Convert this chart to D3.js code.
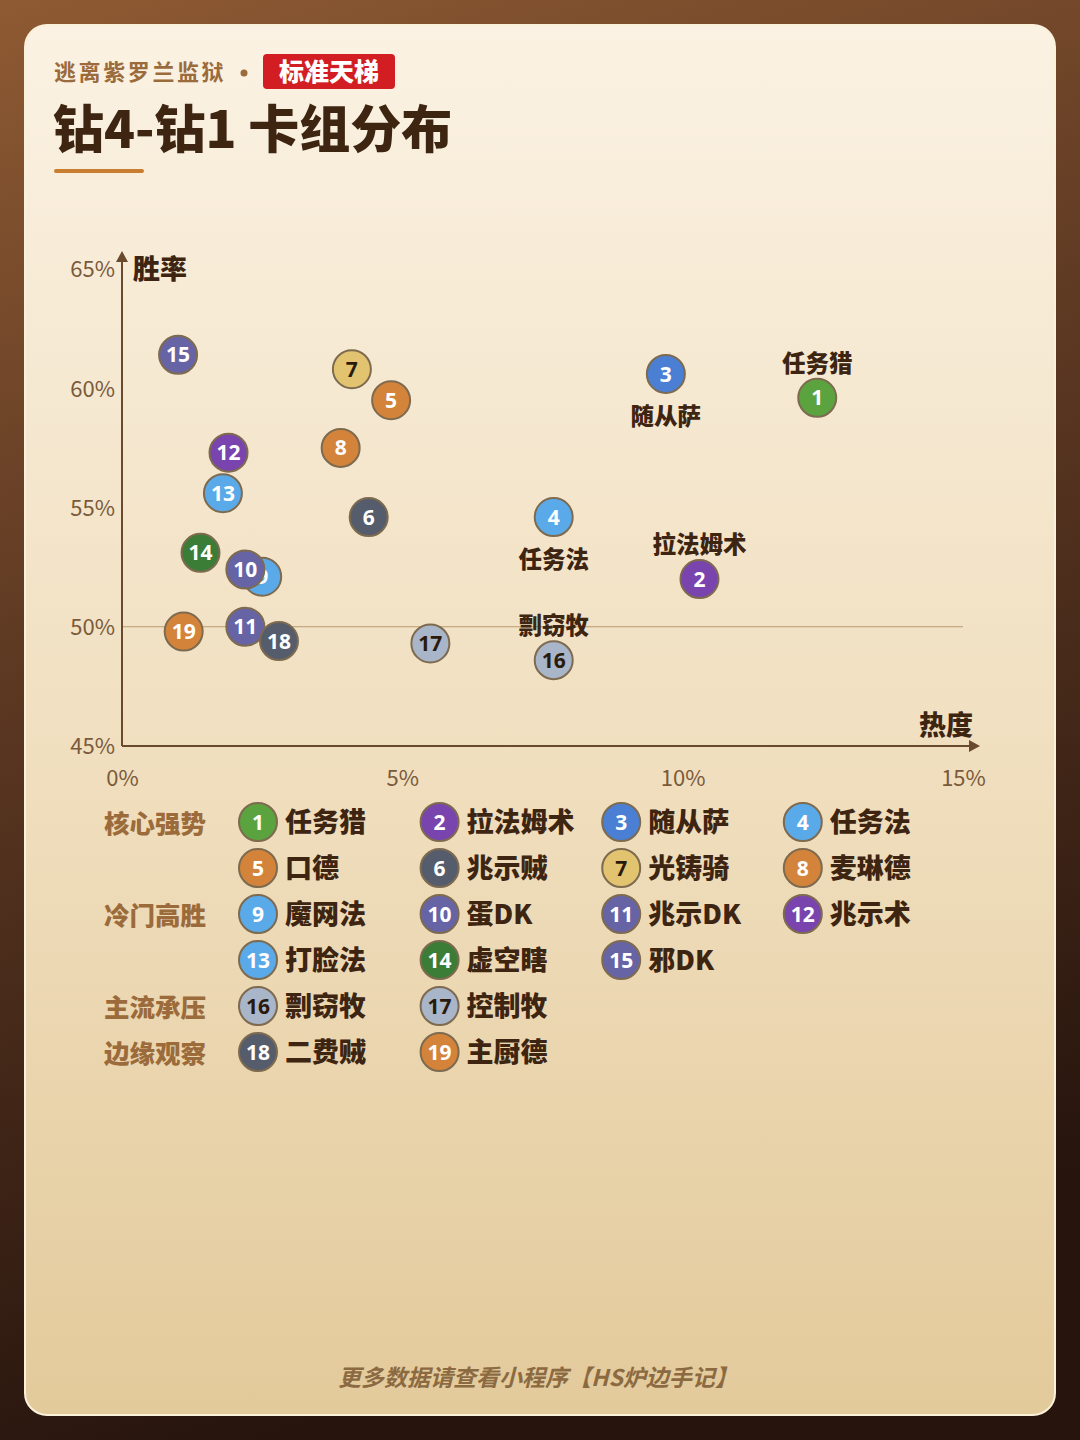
<!DOCTYPE html>
<html>
<head>
<meta charset="utf-8">
<script src="https://cdn.jsdelivr.net/npm/d3@7"></script>
<style>
  html, body { margin: 0; padding: 0; background: #2a160e; }
  svg { display: block; }
</style>
</head>
<body>
<div id="chart"></div>
<script>
// deck data
var deckIds = [1, 2, 3, 4, 5, 6, 7, 8, 9, 10, 11, 12, 13, 14, 15, 16, 17, 18, 19];
var deckNames = ["任务猎", "拉法姆术", "随从萨", "任务法", "口德", "兆示贼", "光铸骑", "麦琳德", "魔网法", "蛋DK",
                 "兆示DK", "兆示术", "打脸法", "虚空瞎", "邪DK", "剽窃牧", "控制牧", "二费贼", "主厨德"];
var popularity = [12.4, 10.3, 9.7, 7.7, 4.8, 4.4, 4.1, 3.9, 2.5, 2.2, 2.2, 1.9, 1.8, 1.4, 1.0, 7.7, 5.5, 2.8, 1.1];
var winRate = [59.6, 52.0, 60.6, 54.6, 59.5, 54.6, 60.8, 57.5, 52.1, 52.4, 50.0, 57.3, 55.6, 53.1, 61.4, 48.6, 49.3, 49.4, 49.8];
var deckClass = ["hunter", "warlock", "shaman", "mage", "druid", "rogue", "paladin", "druid", "mage", "dk",
                 "dk", "warlock", "mage", "dh", "dk", "priest", "priest", "rogue", "druid"];
var deckTier = ["核心强势", "核心强势", "核心强势", "核心强势", "核心强势", "核心强势", "核心强势", "核心强势",
                "冷门高胜", "冷门高胜", "冷门高胜", "冷门高胜", "冷门高胜", "冷门高胜", "冷门高胜",
                "主流承压", "主流承压", "边缘观察", "边缘观察"];
var tiers = ["核心强势", "冷门高胜", "主流承压", "边缘观察"];
var xTicks = [0, 5, 10, 15];
var yTicks = [45, 50, 55, 60, 65];
var baselineWin = 50;

// styles
var classColor = {
  hunter: "#5ba33f", warlock: "#7a44ae", shaman: "#4a7fd3", mage: "#5aaaea", druid: "#d3843a",
  rogue: "#555d6c", paladin: "#e2c36f", dk: "#6764a6", dh: "#3b7c37", priest: "#a9b5c9"
};
var darkText = { paladin: true, priest: true };
// which decks get a name next to the dot, and on which side
var labelSide = { 1: "above", 2: "above", 3: "below", 4: "below", 16: "above" };

var W = 1080, H = 1440;
var brown = "#3d2511", tan = "#9b6b3b", axisCol = "#6a4a2c";
var cjk = "'Noto Sans CJK SC', 'Noto Sans', sans-serif";
var num = "'Open Sans', 'Noto Sans', sans-serif";

var svg = d3.select("#chart").append("svg").attr("width", W).attr("height", H);
var defs = svg.append("defs");

var bg = defs.append("linearGradient").attr("id", "bg").attr("x1", 0).attr("y1", 0).attr("x2", 0.25).attr("y2", 1);
bg.append("stop").attr("offset", "0%").attr("stop-color", "#8e5a33");
bg.append("stop").attr("offset", "45%").attr("stop-color", "#5c3822");
bg.append("stop").attr("offset", "100%").attr("stop-color", "#26140d");

var card = defs.append("linearGradient").attr("id", "card").attr("x1", 0).attr("y1", 0).attr("x2", 0).attr("y2", 1);
card.append("stop").attr("offset", "0%").attr("stop-color", "#fbf2e3");
card.append("stop").attr("offset", "50%").attr("stop-color", "#f1e0c1");
card.append("stop").attr("offset", "100%").attr("stop-color", "#e3ca9b");

svg.append("rect").attr("width", W).attr("height", H).attr("fill", "url(#bg)");
svg.append("rect").attr("x", 25).attr("y", 25).attr("width", 1030).attr("height", 1390)
  .attr("rx", 22).attr("fill", "url(#card)").attr("stroke", "#fbf0da").attr("stroke-width", 2);

// header
svg.append("text").attr("x", 54).attr("y", 80).text("逃离紫罗兰监狱")
  .attr("font-family", cjk).attr("font-weight", 700).attr("font-size", 22).attr("letter-spacing", 2.6).attr("fill", tan);
svg.append("circle").attr("cx", 244).attr("cy", 73).attr("r", 3.5).attr("fill", tan);
svg.append("rect").attr("x", 263).attr("y", 54).attr("width", 132).attr("height", 35).attr("rx", 4).attr("fill", "#d21d22");
svg.append("text").attr("x", 329).attr("y", 81).attr("text-anchor", "middle").text("标准天梯")
  .attr("font-family", cjk).attr("font-weight", 900).attr("font-size", 25).attr("fill", "#fff");
svg.append("text").attr("x", 53).attr("y", 148).text("钻4-钻1 卡组分布")
  .attr("font-family", cjk).attr("font-weight", 900).attr("font-size", 51).attr("fill", brown);
svg.append("rect").attr("x", 54).attr("y", 169).attr("width", 90).attr("height", 4).attr("rx", 2).attr("fill", "#c87d31");

// scales
var x = d3.scaleLinear().domain([0, 15]).range([122, 963]);
var y = d3.scaleLinear().domain([45, 65]).range([746, 269]);

var plot = svg.append("g");

// 50% reference line
plot.append("line").attr("x1", x(0)).attr("x2", x(15)).attr("y1", y(baselineWin)).attr("y2", y(baselineWin))
  .attr("stroke", "#b89a72").attr("stroke-width", 1.2);

// axes with arrow heads
plot.append("line").attr("x1", x(0)).attr("y1", y(45)).attr("x2", 976).attr("y2", y(45))
  .attr("stroke", axisCol).attr("stroke-width", 2);
plot.append("path").attr("d", "M980," + y(45) + "l-11,-6v12z").attr("fill", axisCol);
plot.append("line").attr("x1", x(0)).attr("y1", y(45)).attr("x2", x(0)).attr("y2", 256)
  .attr("stroke", axisCol).attr("stroke-width", 2);
plot.append("path").attr("d", "M" + x(0) + ",251l-6,11h12z").attr("fill", axisCol);

var yAxis = plot.append("g").attr("transform", "translate(" + (x(0) - 5) + ",0)")
  .call(d3.axisLeft(y).tickValues(yTicks).tickSize(0).tickPadding(2).tickFormat(function(d) { return d + "%"; }));
var xAxis = plot.append("g").attr("transform", "translate(0," + (y(45) + 20) + ")")
  .call(d3.axisBottom(x).tickValues(xTicks).tickSize(0).tickPadding(0).tickFormat(function(d) { return d + "%"; }));
[yAxis, xAxis].forEach(function(a) {
  a.select(".domain").remove();
  a.selectAll("text").attr("font-family", cjk).attr("font-size", 22).attr("fill", "#7a5a3a");
});
yAxis.selectAll("text").attr("dy", "0.36em");
xAxis.selectAll("text").attr("dy", "0.9em");

plot.append("text").attr("x", 133).attr("y", 279).text("胜率")
  .attr("font-family", cjk).attr("font-weight", 900).attr("font-size", 27).attr("fill", brown);
plot.append("text").attr("x", 973).attr("y", 735).attr("text-anchor", "end").text("热度")
  .attr("font-family", cjk).attr("font-weight", 900).attr("font-size", 27).attr("fill", brown);

function badge(g, i, r, fs) {
  var c = deckClass[i];
  g.append("circle").attr("r", r).attr("fill", classColor[c]).attr("stroke", "#7d6a4f").attr("stroke-width", 2);
  g.append("text").attr("text-anchor", "middle").attr("dy", "0.36em").text(deckIds[i])
    .attr("font-family", num).attr("font-weight", 700).attr("font-size", fs)
    .attr("fill", darkText[c] ? "#2a1a0c" : "#fff");
}

// dots
deckIds.forEach(function(id, i) {
  var g = plot.append("g").attr("transform", "translate(" + x(popularity[i]) + "," + y(winRate[i]) + ")");
  badge(g, i, 19, 21);
  var side = labelSide[id];
  if (side) {
    g.append("text").attr("text-anchor", "middle").attr("y", side === "above" ? -26 : 51).text(deckNames[i])
      .attr("font-family", cjk).attr("font-weight", 900).attr("font-size", 23.5).attr("fill", brown);
  }
});

// legend, grouped by tier, four per row
var legend = svg.append("g");
var row = 0;
tiers.forEach(function(t) {
  var members = deckIds.map(function(d, i) { return i; }).filter(function(i) { return deckTier[i] === t; });
  legend.append("text").attr("x", 104).attr("y", 824 + row * 46).attr("dy", "0.36em").text(t)
    .attr("font-family", cjk).attr("font-weight", 900).attr("font-size", 25.5).attr("fill", tan);
  members.forEach(function(i, k) {
    var cy = 822 + (row + Math.floor(k / 4)) * 46;
    var cx = 258 + (k % 4) * 181.6;
    var g = legend.append("g").attr("transform", "translate(" + cx + "," + cy + ")");
    badge(g, i, 19, 21);
    g.append("text").attr("x", 27).attr("dy", "0.36em").text(deckNames[i])
      .attr("font-family", cjk).attr("font-weight", 900).attr("font-size", 27).attr("fill", brown);
  });
  row += Math.ceil(members.length / 4);
});

// footer
svg.append("text").attr("x", 538).attr("y", 1386).attr("text-anchor", "middle")
  .text("更多数据请查看小程序【HS炉边手记】")
  .attr("font-family", cjk).attr("font-weight", 700).attr("font-style", "italic")
  .attr("font-size", 23).attr("fill", "#8b6a42");
</script>
</body>
</html>
